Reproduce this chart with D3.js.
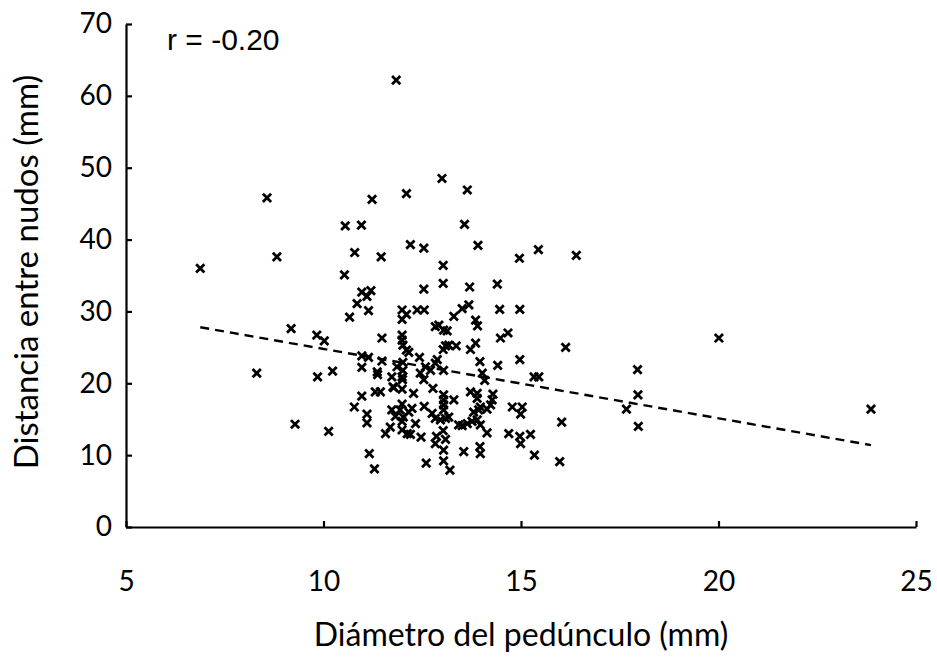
<!DOCTYPE html>
<html>
<head>
<meta charset="utf-8">
<script src="https://cdn.jsdelivr.net/npm/d3@7"></script>
<style>
  body { margin: 0; background: #fff; }
  text { fill: #000; }
</style>
</head>
<body>
<div id="chart"></div>
<script>
const SVG_WIDTH = 937;
const SVG_HEIGHT = 660;
const PLOT = { left: 126, right: 916, top: 24, bottom: 527 };
const TICK_FONT = "Lato, 'Open Sans', sans-serif";

// data
const X_TICKS = [5, 10, 15, 20, 25];
const Y_TICKS = [0, 10, 20, 30, 40, 50, 60, 70];
const X_LABEL = "Diámetro del pedúnculo (mm)";
const Y_LABEL = "Distancia entre nudos (mm)";
const R_LABEL = "r = -0.20";

// fitted line endpoints (x, y)
const TREND_X = [6.88, 23.86];
const TREND_Y = [27.8, 11.4];

const DIAMETER = [
    6.88, 8.57, 8.82, 8.31, 9.28, 9.18, 9.83, 10.02, 9.85, 10.23,
    10.13, 10.53, 10.55, 10.96, 10.79, 11.46, 11.23, 12.10, 11.84, 13.00,
    13.64, 13.57, 12.20, 12.54, 13.91, 13.03, 14.96, 15.44, 16.40, 10.97,
    11.20, 11.10, 10.85, 11.14, 10.66, 12.54, 13.03, 13.70, 14.40, 11.99,
    12.10, 11.99, 12.37, 12.55, 13.30, 13.51, 13.68, 14.46, 14.97, 13.85,
    13.90, 12.83, 12.92, 13.04, 13.13, 14.48, 14.67, 11.48, 11.99, 11.99,
    12.01, 12.10, 12.16, 13.09, 13.17, 13.36, 13.03, 13.72, 13.85, 16.13,
    20.01, 10.97, 11.14, 11.48, 10.97, 11.36, 11.37, 11.73, 11.86, 12.01,
    11.99, 12.01, 12.43, 12.88, 12.83, 12.58, 12.71, 13.04, 12.54, 12.45,
    13.96, 14.41, 14.97, 14.02, 14.08, 15.33, 15.45, 17.95, 11.78, 11.99,
    11.31, 11.44, 10.97, 12.28, 12.77, 13.04, 13.04, 13.04, 13.04, 13.30,
    12.55, 13.72, 13.89, 13.89, 14.29, 14.27, 14.23, 14.14, 13.97, 13.93,
    13.80, 14.78, 15.03, 14.99, 17.96, 17.67, 23.86, 10.78, 11.10, 11.10,
    11.73, 11.82, 11.94, 12.02, 12.16, 12.24, 12.33, 11.69, 11.57, 11.99,
    12.12, 12.20, 12.47, 12.75, 12.83, 12.96, 13.09, 13.17, 13.42, 13.51,
    13.64, 13.76, 13.89, 13.97, 14.14, 12.86, 12.83, 13.09, 13.03, 13.55,
    13.96, 13.97, 14.69, 14.97, 14.99, 15.24, 15.34, 16.03, 15.98, 17.97,
    11.16, 11.29, 12.60, 13.04, 13.04, 13.20, 11.99, 11.99, 12.00, 11.76
];

const DISTANCE = [
    36.0, 45.8, 37.6, 21.4, 14.3, 27.6, 26.7, 25.9, 20.9, 21.7,
    13.3, 35.1, 41.9, 42.0, 38.2, 37.6, 45.6, 46.4, 62.2, 48.5,
    46.9, 42.1, 39.3, 38.8, 39.2, 36.4, 37.4, 38.6, 37.8, 32.7,
    32.9, 32.1, 31.1, 30.1, 29.2, 33.1, 33.9, 33.4, 33.8, 30.2,
    29.6, 28.9, 30.2, 30.2, 29.3, 30.4, 30.9, 30.3, 30.3, 28.8,
    28.0, 27.9, 28.1, 27.4, 27.3, 26.3, 27.0, 26.3, 26.7, 26.0,
    25.3, 24.6, 24.3, 25.2, 25.3, 25.2, 24.7, 24.7, 25.6, 25.0,
    26.3, 23.8, 23.6, 23.1, 22.2, 21.6, 21.2, 20.9, 22.3, 21.8,
    20.9, 22.9, 23.6, 23.3, 22.8, 22.3, 21.8, 21.8, 20.5, 21.4,
    23.0, 22.5, 23.3, 21.4, 20.4, 20.9, 20.9, 21.9, 19.4, 19.2,
    18.8, 18.8, 18.2, 18.6, 19.3, 18.4, 17.7, 17.0, 16.3, 17.7,
    16.8, 18.8, 18.6, 17.9, 18.5, 17.7, 17.0, 16.4, 16.7, 16.3,
    16.0, 16.7, 16.7, 15.7, 18.4, 16.4, 16.4, 16.7, 15.7, 14.5,
    16.3, 15.4, 16.3, 15.3, 16.0, 16.5, 14.4, 13.9, 13.0, 13.5,
    13.0, 12.9, 12.5, 15.8, 15.1, 14.9, 15.1, 15.3, 14.2, 14.1,
    14.4, 14.7, 14.9, 14.2, 13.1, 12.6, 11.6, 12.2, 13.4, 10.5,
    11.2, 10.2, 13.0, 12.6, 11.6, 12.9, 10.0, 14.6, 9.1, 14.0,
    10.2, 8.1, 8.9, 10.7, 9.2, 7.9, 14.7, 17.1, 20.5, 19.5
];

const getScales = () => {
    const x = d3.scaleLinear()
        .domain([5, 25])
        .range([PLOT.left, PLOT.right]);

    const y = d3.scaleLinear()
        .domain([0, 70])
        .range([PLOT.bottom, PLOT.top]);

    return { x, y };
};

const appendAxes = (svg, scales) => {
    const xAxis = svg.append("g")
        .attr("transform", `translate(0,${PLOT.bottom})`)
        .call(d3.axisBottom(scales.x)
            .tickValues(X_TICKS)
            .tickSizeInner(-6)
            .tickSizeOuter(0)
            .tickPadding(44)
        );
    xAxis.selectAll("text")
        .style("font-family", TICK_FONT)
        .style("font-size", "28px");

    const yAxis = svg.append("g")
        .attr("transform", `translate(${PLOT.left},0)`)
        .call(d3.axisLeft(scales.y)
            .tickValues(Y_TICKS)
            .tickSizeInner(-6)
            .tickSizeOuter(0)
            .tickPadding(14)
        );
    yAxis.selectAll("text")
        .style("font-family", TICK_FONT)
        .style("font-size", "28px");

    svg.selectAll(".domain, .tick line")
        .attr("stroke", "#000")
        .attr("stroke-width", 2.2);

    svg.append("text")
        .attr("x", 521)
        .attr("y", 646)
        .attr("text-anchor", "middle")
        .style("font-family", TICK_FONT)
        .style("font-size", "32px")
        .text(X_LABEL);

    svg.append("text")
        .attr("transform", `translate(38,272) rotate(-90)`)
        .attr("text-anchor", "middle")
        .style("font-family", TICK_FONT)
        .style("font-size", "33px")
        .text(Y_LABEL);
};

const appendAnnotations = (svg, scales) => {
    svg.append("text")
        .attr("x", 167)
        .attr("y", 50)
        .style("font-family", "'Liberation Sans', Arial, sans-serif")
        .style("font-size", "30px")
        .text(R_LABEL);

    svg.append("line")
        .attr("x1", scales.x(TREND_X[0]))
        .attr("y1", scales.y(TREND_Y[0]))
        .attr("x2", scales.x(TREND_X[1]))
        .attr("y2", scales.y(TREND_Y[1]))
        .attr("stroke", "#000")
        .attr("stroke-width", 2.4)
        .attr("stroke-dasharray", "9,6");
};

const appendData = (svg, scales) => {
    const points = DIAMETER.map((d, i) => ({ x: d, y: DISTANCE[i] }));
    const marker = d3.symbol().type(d3.symbolX).size(46);

    svg.selectAll(".pt")
        .data(points)
        .enter()
        .append("path")
        .attr("class", "pt")
        .attr("d", marker)
        .attr("transform", d => `translate(${scales.x(d.x)},${scales.y(d.y)})`)
        .attr("fill", "none")
        .attr("stroke", "#000")
        .attr("stroke-width", 2.8);
};

const drawChart = (containerId) => {
    const container = d3.select("#" + containerId);
    container.html("");

    const svg = container.append("svg")
        .attr("width", SVG_WIDTH)
        .attr("height", SVG_HEIGHT);

    const scales = getScales();

    appendAxes(svg, scales);
    appendData(svg, scales);
    appendAnnotations(svg, scales);
};

drawChart("chart");
</script>
</body>
</html>
